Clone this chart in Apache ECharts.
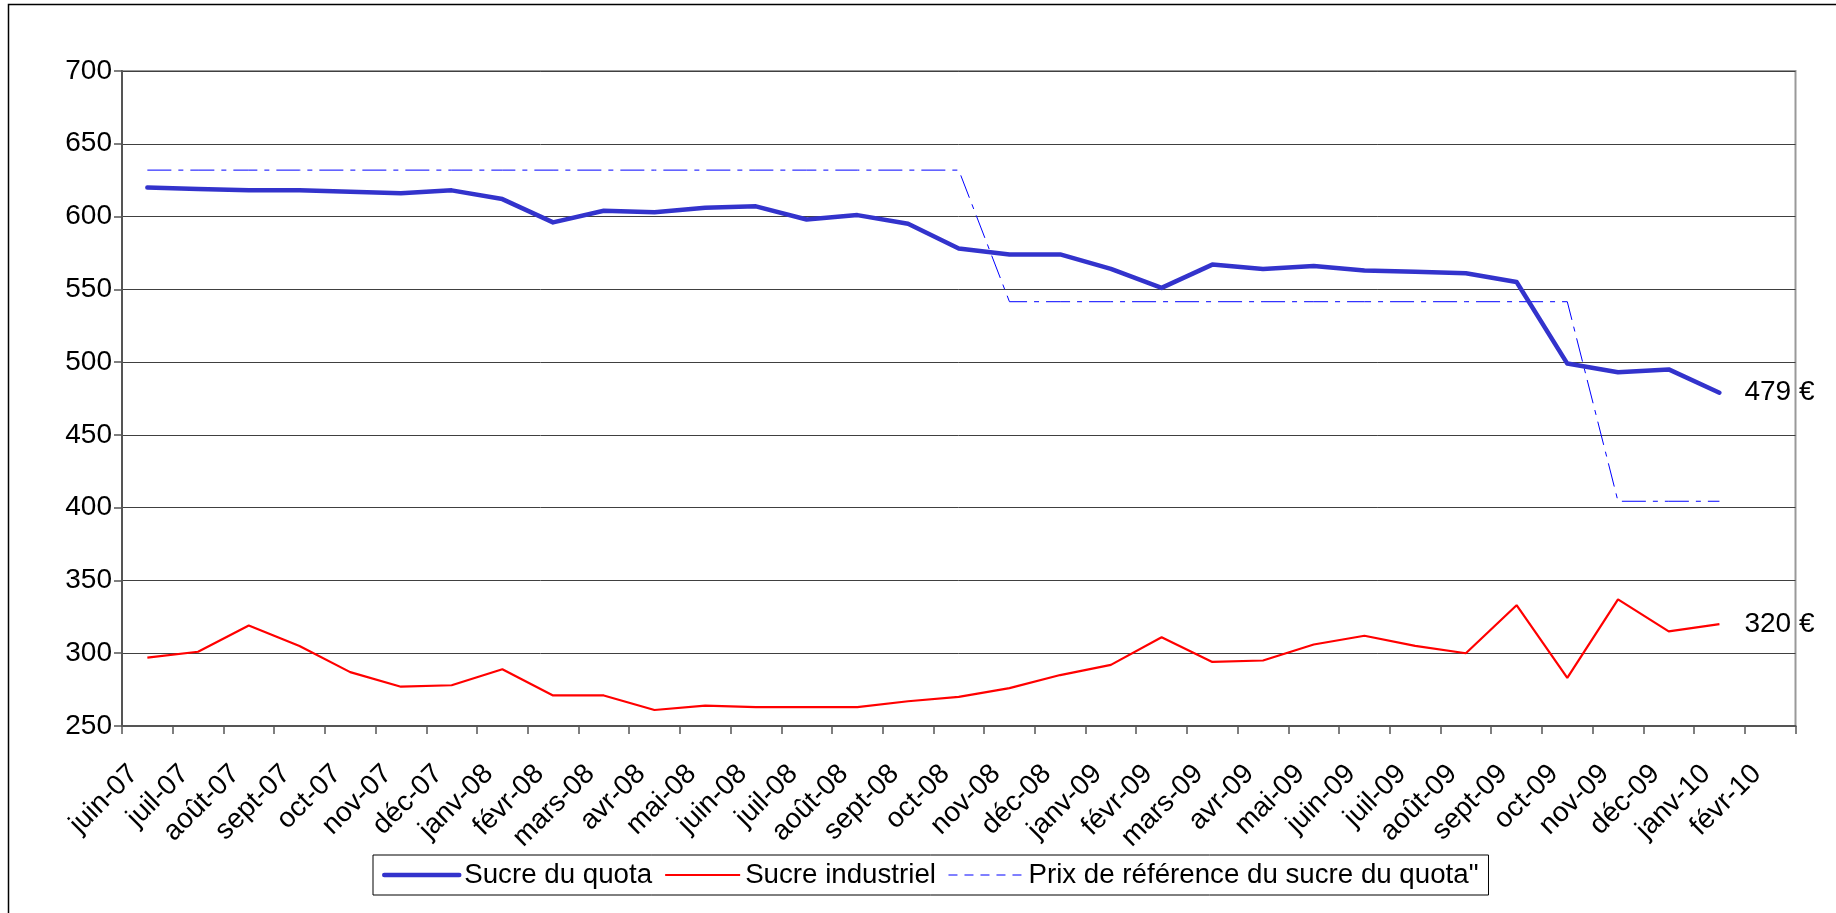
<!DOCTYPE html>
<html>
<head>
<meta charset="utf-8">
<script src="https://cdn.jsdelivr.net/npm/echarts@6/dist/echarts.min.js"></script>
<style>
html,body{margin:0;padding:0;background:#fff;}
#chart{width:1836px;height:913px;}
</style>
</head>
<body>
<div id="chart"></div>
<script>
// ---- data ----
const categories = ['juin-07','juil-07','août-07','sept-07','oct-07','nov-07','déc-07',
  'janv-08','févr-08','mars-08','avr-08','mai-08','juin-08','juil-08','août-08','sept-08','oct-08','nov-08','déc-08',
  'janv-09','févr-09','mars-09','avr-09','mai-09','juin-09','juil-09','août-09','sept-09','oct-09','nov-09','déc-09',
  'janv-10','févr-10'];
const sucreQuota = [620,619,618,618,617,616,618,612,596,604,603,606,607,598,601,595,578,574,574,564,551,567,564,566,563,562,561,555,499,493,495,479];
const sucreIndustriel = [297,301,319,305,287,277,278,289,271,271,261,264,263,263,263,267,270,276,285,292,311,294,295,306,312,305,300,333,283,337,315,320];
const prixReference = [631.9,631.9,631.9,631.9,631.9,631.9,631.9,631.9,631.9,631.9,631.9,631.9,631.9,631.9,631.9,631.9,631.9,
  541.5,541.5,541.5,541.5,541.5,541.5,541.5,541.5,541.5,541.5,541.5,541.5,
  404.4,404.4,404.4];
const seriesNames = ['Sucre du quota','Sucre industriel','Prix de référence du sucre du quota"'];
const yTicks = {min:250, max:700, interval:50};

const FONT = '"Liberation Sans", Arial, sans-serif';
const chart = echarts.init(document.getElementById('chart'), null, {renderer:'canvas'});
chart.setOption({
  animation:false,
  backgroundColor:'#fff',
  textStyle:{fontFamily:FONT, color:'#000'},
  graphic:[{
    type:'rect', z:100, silent:true,
    shape:{x:8.5, y:4.5, width:1900, height:1000},
    style:{fill:'none', stroke:'#000', lineWidth:1.5}
  }],
  grid:{left:122, top:71, right:40.5, bottom:187, show:true, borderColor:'#999', borderWidth:2, backgroundColor:'transparent'},
  legend:{
    left:373, top:855,
    data:[
      {name:seriesNames[0], lineStyle:{width:4.5, color:'#3333CC'}},
      {name:seriesNames[1], lineStyle:{width:2.2, color:'#FF0000'}},
      {name:seriesNames[2], lineStyle:{width:1, color:'#0000FF', type:[9,7]}}
    ],
    itemWidth:75, itemHeight:14, itemGap:12,
    padding:[6,10,6,9],
    borderColor:'#000', borderWidth:1,
    itemStyle:{opacity:0, color:'rgba(0,0,0,0)', borderWidth:0},
    textStyle:{fontFamily:FONT, fontSize:27.7, color:'#000'}
  },
  xAxis:{
    type:'category', data:categories, boundaryGap:true,
    axisLine:{lineStyle:{color:'#555', width:2}},
    axisTick:{show:true, alignWithLabel:false, interval:0, length:8, lineStyle:{color:'#555', width:1.5}},
    axisLabel:{interval:0, rotate:45, margin:30, padding:[0,19,8,0], fontSize:28, fontFamily:FONT, color:'#000'},
    splitLine:{show:false}
  },
  yAxis:{
    type:'value', min:yTicks.min, max:yTicks.max, interval:yTicks.interval,
    axisLine:{show:true, lineStyle:{color:'#555', width:2}},
    axisTick:{show:true, length:8, lineStyle:{color:'#555', width:1.5}},
    axisLabel:{margin:10, fontSize:28, fontFamily:FONT, color:'#000'},
    splitLine:{show:true, lineStyle:{color:'#404040', width:1}}
  },
  series:[
    {name:seriesNames[0], type:'line', data:sucreQuota, symbol:'none', showSymbol:false, z:4,
     lineStyle:{color:'#3333CC', width:4.5, cap:'round', join:'round'}, itemStyle:{color:'#3333CC'},
     endLabel:{show:true, distance:25, formatter:p=>p.value+' €', fontSize:28, fontFamily:FONT, color:'#000'}},
    {name:seriesNames[1], type:'line', data:sucreIndustriel, symbol:'none', showSymbol:false, z:3,
     lineStyle:{color:'#FF0000', width:2.2}, itemStyle:{color:'#FF0000'},
     endLabel:{show:true, distance:25, formatter:p=>p.value+' €', fontSize:28, fontFamily:FONT, color:'#000'}},
    {name:seriesNames[2], type:'line', data:prixReference, symbol:'none', showSymbol:false, z:2,
     lineStyle:{color:'#0000FF', width:1, type:[24,7,5,7]}, itemStyle:{color:'#0000FF'}}
  ]
});
</script>
</body>
</html>
